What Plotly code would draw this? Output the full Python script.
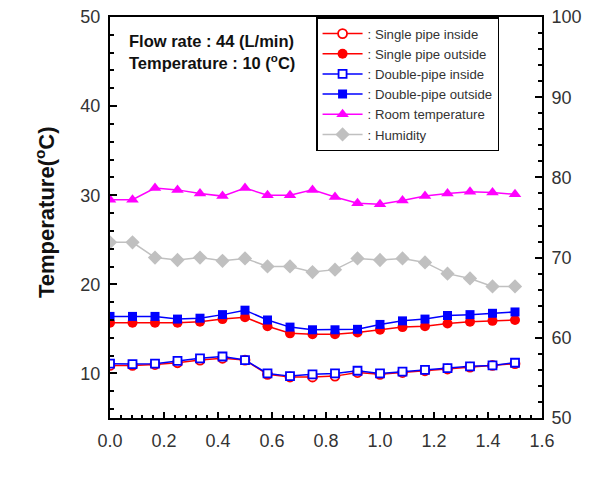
import plotly.graph_objects as go

time_h = [i * 1.5 / 18 for i in range(19)]

single_inside = [10.9, 10.9, 11.0, 11.2, 11.5, 11.7, 11.5, 9.9, 9.6, 9.6, 9.7, 10.1, 9.9, 10.1, 10.3, 10.5, 10.7, 10.9, 11.1]
single_outside = [15.7, 15.7, 15.7, 15.7, 15.8, 16.1, 16.3, 15.3, 14.5, 14.4, 14.4, 14.6, 14.9, 15.2, 15.3, 15.6, 15.8, 15.9, 16.0]
double_inside = [11.1, 11.05, 11.1, 11.4, 11.7, 11.9, 11.5, 10.0, 9.7, 9.9, 10.0, 10.3, 10.0, 10.2, 10.4, 10.6, 10.8, 10.9, 11.2]
double_outside = [16.4, 16.4, 16.4, 16.1, 16.2, 16.6, 17.1, 16.0, 15.2, 14.9, 14.9, 14.95, 15.5, 15.9, 16.1, 16.5, 16.6, 16.75, 16.9]
room_temp = [29.5, 29.5, 30.8, 30.6, 30.2, 29.9, 30.8, 30.0, 30.0, 30.6, 29.8, 29.1, 29.0, 29.4, 29.9, 30.2, 30.4, 30.3, 30.1]
humidity = [71.9, 71.9, 70.0, 69.7, 70.0, 69.6, 69.9, 68.9, 68.9, 68.2, 68.5, 69.9, 69.7, 69.9, 69.4, 68.0, 67.4, 66.4, 66.4]

names = [": Single pipe inside", ": Single pipe outside", ": Double-pipe inside",
         ": Double-pipe outside", ": Room temperature", ": Humidity"]

RED, BLUE, MAG, GRAY = "#FF0000", "#0000FF", "#FF00FF", "#C0C0C0"
FONT = "Liberation Sans, Arial, sans-serif"

fig = go.Figure()
fig.add_trace(go.Scatter(x=time_h, y=single_inside, name=names[0], mode="lines+markers",
                         line=dict(color=RED, width=1.5),
                         marker=dict(symbol="circle", size=9, color="white", line=dict(color=RED, width=1.8))))
fig.add_trace(go.Scatter(x=time_h, y=single_outside, name=names[1], mode="lines+markers",
                         line=dict(color=RED, width=1.5),
                         marker=dict(symbol="circle", size=10, color=RED, line=dict(color=RED, width=0))))
fig.add_trace(go.Scatter(x=time_h, y=double_inside, name=names[2], mode="lines+markers",
                         line=dict(color=BLUE, width=1.5),
                         marker=dict(symbol="square", size=8, color="white", line=dict(color=BLUE, width=1.8))))
fig.add_trace(go.Scatter(x=time_h, y=double_outside, name=names[3], mode="lines+markers",
                         line=dict(color=BLUE, width=1.5),
                         marker=dict(symbol="square", size=9, color=BLUE, line=dict(color=BLUE, width=0))))
fig.add_trace(go.Scatter(x=time_h, y=room_temp, name=names[4], mode="lines+markers",
                         line=dict(color=MAG, width=1.5),
                         marker=dict(symbol="triangle-up", size=11, color=MAG)))
fig.add_trace(go.Scatter(x=time_h, y=humidity, name=names[5], mode="lines+markers", yaxis="y2",
                         line=dict(color=GRAY, width=1.5),
                         marker=dict(symbol="diamond", size=11, color=GRAY)))

fig.update_layout(
    width=591, height=478,
    margin=dict(l=110, r=49, t=17, b=60),
    paper_bgcolor="white", plot_bgcolor="white",
    font=dict(family=FONT, color="#222222"),
    showlegend=True,
    legend=dict(x=0.477, y=1.0, xanchor="left", yanchor="top",
                bgcolor="white", bordercolor="black", borderwidth=1.5,
                font=dict(family=FONT, size=13.2, color="#333333"),
                itemwidth=40, tracegroupgap=0),
    xaxis=dict(range=[0, 1.6], dtick=0.2, tick0=0, tickformat=".1f", automargin=False,
               showline=True, linecolor="black", linewidth=2, mirror=True,
               ticks="inside", ticklen=6, tickwidth=1.5, tickcolor="black",
               minor=dict(dtick=0.04, ticks="inside", ticklen=3, tickwidth=1.5, tickcolor="black"),
               showgrid=False, zeroline=False, ticklabelstandoff=5,
               tickfont=dict(family=FONT, size=18, color="#333333")),
    yaxis=dict(range=[5, 50], dtick=10, tick0=0, automargin=False,
               showline=True, linecolor="black", linewidth=2,
               ticks="inside", ticklen=7, tickwidth=1.5, tickcolor="black",
               minor=dict(dtick=2, ticks="inside", ticklen=4, tickwidth=1.5, tickcolor="black"),
               showgrid=False, zeroline=False, ticklabelstandoff=4,
               tickfont=dict(family=FONT, size=18, color="#333333")),
    yaxis2=dict(range=[50, 100], dtick=10, tick0=0, overlaying="y", side="right", automargin=False,
                showline=True, linecolor="black", linewidth=2,
                ticks="inside", ticklen=7, tickwidth=1.5, tickcolor="black",
                minor=dict(dtick=2, ticks="inside", ticklen=4, tickwidth=1.5, tickcolor="black"),
                showgrid=False, zeroline=False, ticklabelstandoff=4,
                tickfont=dict(family=FONT, size=18, color="#333333")),
    annotations=[
        dict(text="<b>Flow rate : 44 (L/min)</b>", xref="paper", yref="paper",
             x=0.04, y=(418 - 41) / 401, xanchor="left", yanchor="middle", showarrow=False,
             font=dict(family=FONT, size=16.5, color="#111111")),
        dict(text="<b>Temperature : 10 (<sup>o</sup>C)</b>", xref="paper", yref="paper",
             x=0.04, y=(418 - 62) / 401, xanchor="left", yanchor="middle", showarrow=False,
             font=dict(family=FONT, size=16.5, color="#111111")),
        dict(text="<b>Temperature(<sup>o</sup>C)</b>", xref="paper", yref="paper",
             x=(45 - 110) / 432, y=(418 - 212) / 401, xanchor="center", yanchor="middle",
             textangle=-90, showarrow=False,
             font=dict(family=FONT, size=22, color="#111111")),
    ],
)

fig.write_html("out.html")
